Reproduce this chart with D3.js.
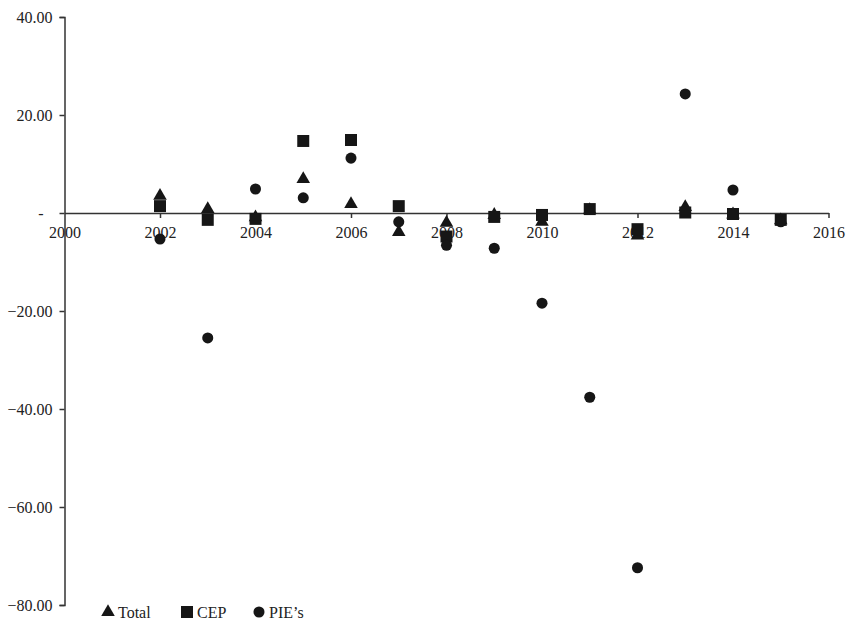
<!DOCTYPE html>
<html>
<head>
<meta charset="utf-8">
<script src="https://cdn.jsdelivr.net/npm/d3@7"></script>
<style>
	body { margin: 0; background: #fff; }
	text { font-family: "Liberation Serif", "DejaVu Serif", serif; fill: #222; }
</style>
</head>
<body>
<svg id="chart"></svg>
<script>
var years = [2002, 2003, 2004, 2005, 2006, 2007, 2008, 2009, 2010, 2011, 2012, 2013, 2014, 2015];
var total = [3.5, 0.8, -0.9, 6.9, 1.8, -3.9, -2.0, -0.4, -1.8, 0.6, -4.6, 1.2, -0.3, -1.5];
var cep = [1.4, -1.4, -1.2, 14.7, 14.9, 1.4, -4.8, -0.8, -0.4, 0.8, -3.3, 0.1, -0.2, -1.4];
var pies = [-5.3, -25.5, 4.9, 3.1, 11.2, -1.8, -6.6, -7.2, -18.4, -37.6, -72.4, 24.3, 4.7, -1.8];
var seriesNames = ["Total", "CEP", "PIE\u2019s"];
var xTicks = [2000, 2002, 2004, 2006, 2008, 2010, 2012, 2014, 2016];
var yTicks = [40, 20, 0, -20, -40, -60, -80];

var width = 850, height = 624;
var ink = "#161616";

var svg = d3.select("#chart")
	.attr("width", width)
	.attr("height", height);

var x = d3.scaleLinear().domain([2000, 2016]).range([64.5, 828.5]);
var y = d3.scaleLinear().domain([-80, 40]).range([605, 17]);

// y axis
var yAxis = d3.axisLeft(y)
	.tickValues(yTicks)
	.tickSize(5)
	.tickFormat(function(d) {
		if (d === 0) return "-";
		return (d < 0 ? "\u2212" : "") + d3.format(".2f")(Math.abs(d));
	});

var gy = svg.append("g")
	.attr("transform", "translate(" + x(2000) + ",0)")
	.call(yAxis);
gy.select(".domain").attr("stroke", "#333").attr("stroke-width", 1.5);
gy.selectAll(".tick line").attr("stroke", "#333").attr("stroke-width", 1.5);
gy.selectAll(".tick text")
	.attr("x", -12)
	.style("font-size", "16px")
	.attr("fill", "#222")
	.filter(function(d) { return d === 0; })
	.attr("x", -21);

// x axis through zero
var xAxis = d3.axisBottom(x)
	.tickValues(xTicks)
	.tickSize(5)
	.tickSizeOuter(0)
	.tickFormat(d3.format("d"));

var gx = svg.append("g")
	.attr("transform", "translate(0," + y(0) + ")")
	.call(xAxis);
gx.select(".domain").attr("stroke", "#333").attr("stroke-width", 1.5);
gx.selectAll(".tick line").attr("stroke", "#333").attr("stroke-width", 1.5);
gx.selectAll(".tick text")
	.attr("y", 14)
	.style("font-size", "16px")
	.attr("fill", "#222");
gx.selectAll(".tick").filter(function(d) { return d === 2000; }).select("line").remove();

// markers, drawn in series order so later ones sit on top
var shapes = [d3.symbolTriangle, d3.symbolSquare, d3.symbolCircle];
var sizes = [80, 144, 96];
var data = [total, cep, pies];

data.forEach(function(vals, s) {
	svg.append("g")
		.selectAll("path")
		.data(vals)
		.enter().append("path")
		.attr("d", d3.symbol().type(shapes[s]).size(sizes[s]))
		.attr("fill", ink)
		.attr("transform", function(d, i) {
			return "translate(" + x(years[i]) + "," + y(d) + ")";
		});
});

// legend
var legX = [108, 187, 259];
var legend = svg.selectAll(".legend")
	.data(seriesNames)
	.enter().append("g")
	.attr("class", "legend")
	.attr("transform", function(d, i) {
		return "translate(" + legX[i] + ",612)";
	});

legend.append("path")
	.attr("d", function(d, i) {
		return d3.symbol().type(shapes[i]).size(sizes[i])();
	})
	.attr("fill", ink);

legend.append("text")
	.attr("x", 10)
	.attr("y", 6)
	.style("font-size", "16px")
	.text(function(d) { return d; });
</script>
</body>
</html>
